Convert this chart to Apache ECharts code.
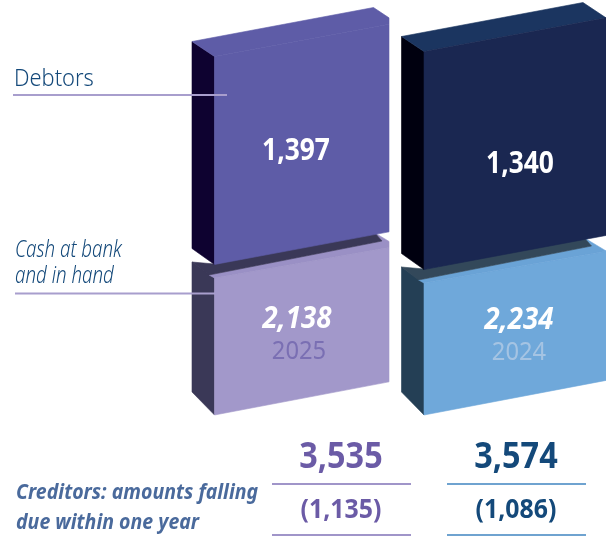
<!DOCTYPE html>
<html>
<head>
<meta charset="utf-8">
<style>
  html, body { margin: 0; padding: 0; background: #fff; }
  #chart { width: 606px; height: 537px; }
</style>
<script src="https://cdn.jsdelivr.net/npm/echarts@6/dist/echarts.min.js"></script>
</head>
<body>
<div id="chart"></div>
<script>
const years = ['2025', '2024']
// printed figures
const debtors = [1397, 1340]
const cashAtBank = [2138, 2234]
const totals = [3535, 3574]
const creditors = [1135, 1086]
// block heights as drawn: the picture's blocks are not to scale with the printed figures
const debtorsDrawn = [208, 218]
const cashDrawn = [137, 132]
const stackGap = 13.5

const upperColors = [
  { side: '#0e0230', top: '#5e5ca7', front: '#5e5ca7' },
  { side: '#00000f', top: '#1b3560', front: '#1a2751' }
]
const lowerColors = [
  { side: '#3a3857', shadow: '#3a3857', top: '#9a90c5', front: '#a298ca', year: '#7a6fb3' },
  { side: '#243f55', shadow: '#33485a', top: '#6aa3d6', front: '#6fa8da', year: '#a5c4e3' }
]
const columnColors = [
  { text: '#6b5ba6', line: '#a095c9' },
  { text: '#14497a', line: '#6fa3d0' }
]

const fontName = '"Noto Sans", sans-serif'
const fmt = v => v.toLocaleString('en-US')
// thin stroke in the fill colour closes the seams between faces
const poly = (points, fill) => ({ type: 'polygon', shape: { points }, style: { fill, stroke: fill, lineWidth: 0.6 } })

// front face widths, the 2025 block is cut off on its right side
const frontWidth = 182
const visibleWidth = [174.5, 182]

function blockFrame(idx, api) {
  const cx = api.coord([idx, 0])[0]
  const xL = cx - frontWidth / 2
  return {
    xL,
    xB: xL - 22.5,
    w: visibleWidth[idx],
    xR: xL + visibleWidth[idx],
    bottom: api.coord([idx, api.value(1)])[1],
    top: api.coord([idx, api.value(1) + api.value(2)])[1]
  }
}

function renderLower(params, api) {
  const idx = api.value(0)
  const { xL, xB, w, xR, bottom, top } = blockFrame(idx, api)
  const c = lowerColors[idx]
  const backR = [xB + 183, top - 45]
  const cornerY = backR[1] + (xR - backR[0]) * 0.6
  return {
    type: 'group',
    children: [
      poly([[xB, top - 16], [xL, top], [xL, bottom], [xB, bottom - 23]], c.side),
      poly([[xL, top], [xR, top - w * 0.175], [xR, bottom - w * 0.19], [xL, bottom]], c.front),
      poly([[xL - 5.5, top - 3], [xB + 190, top - 37], backR, [xR, cornerY], [xR, top - w * 0.175], [xL, top]], c.top),
      poly([[xB, top - 16], [xL, top - 14], backR, [xB + 190, top - 37], [xL - 5.5, top - 3]], c.shadow)
    ]
  }
}

function renderUpper(params, api) {
  const idx = api.value(0)
  const { xL, xB, w, xR, bottom, top } = blockFrame(idx, api)
  const c = upperColors[idx]
  const backL = [xB, top - 15]
  const backR = [xB + 181.5, top - 49]
  const cornerY = backR[1] + (xR - backR[0]) * 0.667
  return {
    type: 'group',
    children: [
      poly([backL, [xL, top], [xL, bottom], [xB, bottom - 16]], c.side),
      poly([backL, backR, [xR, cornerY], [xR, top - w * 0.185], [xL, top]], c.top),
      poly([[xL, top], [xR, top - w * 0.185], [xR, bottom - w * 0.187], [xL, bottom]], c.front)
    ]
  }
}

function label(text, x, y, opts) {
  const sx = opts.scaleX || 1
  return {
    type: 'text',
    z: 100,
    x: x,
    y: y,
    scaleX: sx,
    style: {
      text: text,
      fill: opts.fill,
      font: (opts.italic ? 'italic ' : '') + (opts.weight || 400) + ' ' + opts.size + 'px ' + fontName,
      align: opts.align || 'center',
      verticalAlign: 'middle'
    }
  }
}

function hline(x1, x2, y, color, width) {
  return {
    type: 'line',
    z: 90,
    shape: { x1, y1: y, x2, y2: y },
    style: { stroke: color, lineWidth: width || 2 }
  }
}

const onBlockX = [[296, 297, 299], [520, 519, 519]]
const onBlockY = [[151, 319, 352], [164, 320, 353]]
const columnX = [341, 516]
const columnLines = [[272, 411], [447, 586]]

const graphics = [
  label('Debtors', 14, 79, { fill: '#14497a', size: 23, weight: 300, align: 'left', scaleX: 0.95 }),
  hline(13, 227, 95, '#a89ecd'),
  label('Cash at bank', 15, 250, { fill: '#14497a', size: 24, weight: 300, italic: true, align: 'left', scaleX: 0.78 }),
  label('and in hand', 15, 276, { fill: '#14497a', size: 24, weight: 300, italic: true, align: 'left', scaleX: 0.78 }),
  hline(15, 215, 293.5, '#a89ecd'),
  label('Creditors: amounts falling', 16, 493, { fill: '#4a6a9c', size: 21, weight: 700, italic: true, align: 'left', scaleX: 0.93 }),
  label('due within one year', 16, 523, { fill: '#4a6a9c', size: 21, weight: 700, italic: true, align: 'left', scaleX: 0.93 })
]

years.forEach((year, i) => {
  graphics.push(
    label(fmt(debtors[i]), onBlockX[i][0], onBlockY[i][0], { fill: '#fff', size: 30, weight: 700, scaleX: 0.88 }),
    label(fmt(cashAtBank[i]), onBlockX[i][1], onBlockY[i][1], { fill: '#fff', size: 30, weight: 700, italic: true, scaleX: 0.92 }),
    label(year, onBlockX[i][2], onBlockY[i][2], { fill: lowerColors[i].year, size: 25, scaleX: 0.95 }),
    label(fmt(totals[i]), columnX[i], 458, { fill: columnColors[i].text, size: 36, weight: 700, scaleX: 0.9 }),
    hline(columnLines[i][0], columnLines[i][1], 484, columnColors[i].line),
    label('(' + fmt(creditors[i]) + ')', columnX[i], 510, { fill: columnColors[i].text, size: 27, weight: 700, scaleX: 0.92 }),
    hline(columnLines[i][0], columnLines[i][1], 535, columnColors[i].line)
  )
})

const option = {
  animation: false,
  grid: { left: 200.75, top: 0, width: 419, height: 415, outerBoundsMode: 'none' },
  xAxis: { type: 'category', data: years, show: false },
  yAxis: { type: 'value', min: 0, max: 415, show: false },
  graphic: graphics,
  series: [
    {
      type: 'custom',
      renderItem: renderLower,
      clip: false,
      silent: true,
      data: years.map((y, i) => [i, 0, cashDrawn[i]])
    },
    {
      type: 'custom',
      renderItem: renderUpper,
      clip: false,
      silent: true,
      z: 3,
      data: years.map((y, i) => [i, cashDrawn[i] + stackGap, debtorsDrawn[i]])
    }
  ]
}

echarts.init(document.getElementById('chart')).setOption(option)
</script>
</body>
</html>
